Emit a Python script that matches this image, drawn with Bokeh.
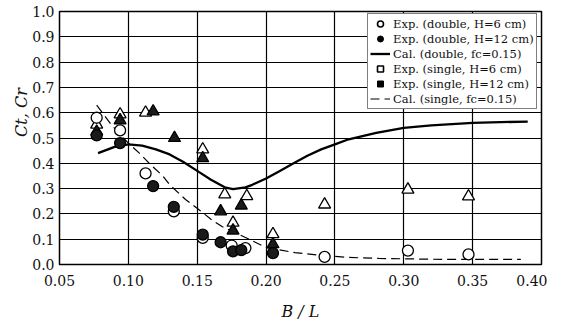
from bokeh.plotting import figure
from bokeh.models import Legend, LegendItem, ColumnDataSource, FixedTicker, CustomJSTickFormatter
from bokeh.embed import file_html
from bokeh.resources import INLINE

# Exp. (double, H=6 cm) - open circles
dbl6_x = [0.077, 0.094, 0.1125, 0.133, 0.154, 0.175, 0.185, 0.2425, 0.303, 0.347]
dbl6_y = [0.58, 0.53, 0.36, 0.21, 0.105, 0.075, 0.065, 0.03, 0.055, 0.04]
# Exp. (double, H=12 cm) - filled circles
dbl12_x = [0.077, 0.094, 0.118, 0.133, 0.154, 0.167, 0.176, 0.182, 0.205]
dbl12_y = [0.51, 0.48, 0.31, 0.228, 0.118, 0.088, 0.052, 0.057, 0.045]
# Exp. (single, H=6 cm) - open triangles
sgl6_x = [0.077, 0.094, 0.1125, 0.154, 0.17, 0.176, 0.186, 0.205, 0.2425, 0.303, 0.347]
sgl6_y = [0.553, 0.593, 0.60, 0.455, 0.277, 0.165, 0.27, 0.12, 0.237, 0.296, 0.269]
# Exp. (single, H=12 cm) - filled triangles
sgl12_x = [0.077, 0.094, 0.118, 0.1335, 0.154, 0.167, 0.176, 0.182, 0.205]
sgl12_y = [0.525, 0.57, 0.605, 0.50, 0.42, 0.21, 0.134, 0.233, 0.08]
# Cal. (double, fc=0.15)
cald_x = [0.078, 0.09, 0.10, 0.11, 0.12, 0.13, 0.14, 0.15, 0.16, 0.17, 0.176, 0.185,
          0.19, 0.20, 0.21, 0.22, 0.23, 0.24, 0.25, 0.26, 0.28, 0.30, 0.32, 0.35, 0.39]
cald_y = [0.44, 0.465, 0.475, 0.47, 0.455, 0.435, 0.405, 0.37, 0.335, 0.305, 0.298, 0.305,
          0.315, 0.34, 0.37, 0.40, 0.43, 0.455, 0.475, 0.495, 0.52, 0.54, 0.55, 0.56, 0.565]
# Cal. (single, fc=0.15)
cals_x = [0.077, 0.088, 0.10, 0.108, 0.117, 0.125, 0.13, 0.1415, 0.154, 0.161, 0.168,
          0.185, 0.20, 0.221, 0.2425, 0.26, 0.282, 0.33, 0.385]
cals_y = [0.63, 0.55, 0.48, 0.44, 0.39, 0.35, 0.315, 0.257, 0.205, 0.174, 0.15,
          0.107, 0.067, 0.047, 0.035, 0.028, 0.024, 0.02, 0.02]

x_ticks = [0.05, 0.10, 0.15, 0.20, 0.25, 0.30, 0.35, 0.40]
y_ticks = [0.0, 0.1, 0.2, 0.3, 0.4, 0.5, 0.6, 0.7, 0.8, 0.9, 1.0]
labels = ["Exp. (double, H=6 cm)", "Exp. (double, H=12 cm)", "Cal. (double, fc=0.15)",
          "Exp. (single, H=6 cm)", "Exp. (single, H=12 cm)", "Cal. (single, fc=0.15)"]

SERIF = "DejaVu Serif"

p = figure(frame_width=482, frame_height=253, x_range=(0.05, 0.40), y_range=(0.0, 1.0),
           output_backend="svg", toolbar_location=None,
           min_border_left=59, min_border_right=6, min_border_top=11, min_border_bottom=59)
p.background_fill_color = "white"
p.outline_line_color = "black"
p.outline_line_width = 1.5

p.xaxis.ticker = FixedTicker(ticks=x_ticks)
p.yaxis.ticker = FixedTicker(ticks=y_ticks)
p.xaxis.formatter = CustomJSTickFormatter(code="return tick.toFixed(2);")
p.yaxis.formatter = CustomJSTickFormatter(code="return tick.toFixed(1);")
for ax in (p.xaxis, p.yaxis):
    ax.major_label_text_font = SERIF
    ax.major_label_text_font_size = "14px"
    ax.major_label_text_color = "#111"
    ax.major_tick_in = 0
    ax.major_tick_out = 0
    ax.minor_tick_in = 0
    ax.minor_tick_out = 0
    ax.axis_line_color = None
    ax.axis_label_text_font = SERIF
    ax.axis_label_text_font_style = "italic"
    ax.axis_label_text_font_size = "16px"
    ax.axis_label_text_color = "#111"
p.xaxis.axis_label = "B / L"
# leading non-breaking spaces move the label up, as in the reference
p.yaxis.axis_label = "\u00a0" * 10 + "Ct, Cr"
p.xaxis.major_label_standoff = 10
p.xaxis.axis_label_standoff = 13
p.yaxis.major_label_standoff = 5
p.yaxis.axis_label_standoff = -2

p.xgrid.ticker = FixedTicker(ticks=x_ticks)
p.ygrid.ticker = FixedTicker(ticks=y_ticks)
p.grid.grid_line_color = "black"
p.grid.grid_line_width = 1.2
p.grid.grid_line_alpha = 1

# calculated curves
r_cd = p.line(cald_x, cald_y, line_color="black", line_width=2.3)
r_cs = p.line(cals_x, cals_y, line_color="black", line_width=1.2, line_dash="9 5")

# experimental points
p.scatter(sgl6_x, sgl6_y, marker="triangle", size=12, fill_color="white",
          line_color="black", line_width=1.3)
p.scatter(sgl12_x, sgl12_y, marker="triangle", size=12, fill_color="#1a1a1a",
          line_color="black", line_width=1.3)
p.scatter(dbl6_x, dbl6_y, marker="circle", size=11, fill_color="white",
          line_color="black", line_width=1.3)
p.scatter(dbl12_x, dbl12_y, marker="circle", size=11, fill_color="#1a1a1a",
          line_color="black", line_width=1.3)

# legend-only glyphs (as drawn in the reference legend); NaN data draws nothing in the plot
nan = float("nan")
lg_src = ColumnDataSource(data=dict(x=[nan], y=[nan]))
lg_c6 = p.scatter("x", "y", source=lg_src, marker="circle", size=6, fill_color="white",
                  line_color="black", line_width=1.6)
lg_c12 = p.scatter("x", "y", source=lg_src, marker="circle", size=6, fill_color="black",
                   line_color="black")
lg_s6 = p.scatter("x", "y", source=lg_src, marker="square", size=7, fill_color="white",
                  line_color="black", line_width=1.6)
lg_s12 = p.scatter("x", "y", source=lg_src, marker="square", size=7, fill_color="black",
                   line_color="black")

legend = Legend(items=[
    LegendItem(label=labels[0], renderers=[lg_c6], index=0),
    LegendItem(label=labels[1], renderers=[lg_c12], index=0),
    LegendItem(label=labels[2], renderers=[r_cd]),
    LegendItem(label=labels[3], renderers=[lg_s6], index=0),
    LegendItem(label=labels[4], renderers=[lg_s12], index=0),
    LegendItem(label=labels[5], renderers=[r_cs]),
], location=(308, 155))
legend.label_text_font = SERIF
legend.label_text_font_size = "11.5px"
legend.label_text_color = "#111"
legend.label_height = 15
legend.glyph_height = 15
legend.glyph_width = 20
legend.label_standoff = 3
legend.spacing = 0
legend.padding = 2
legend.margin = 0
legend.border_line_color = "black"
legend.border_line_width = 1.2
legend.background_fill_alpha = 1
p.add_layout(legend, "center")

open("out.html", "w").write(file_html(p, INLINE))
